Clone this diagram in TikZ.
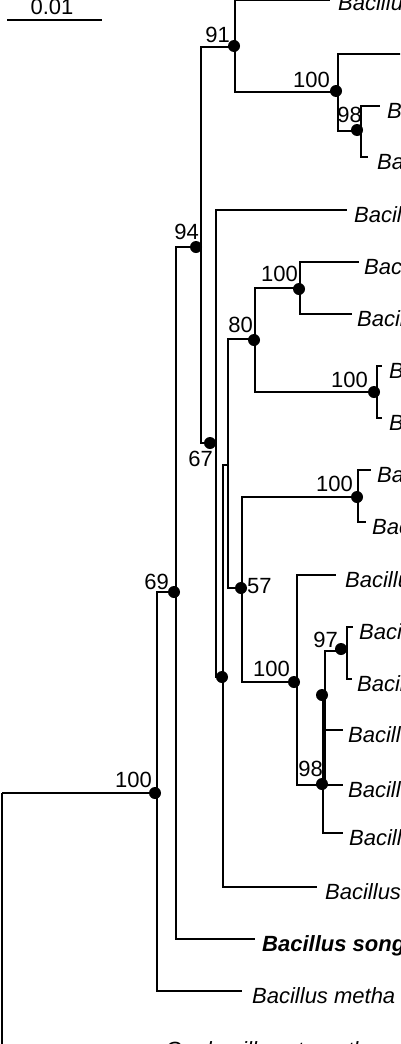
\documentclass[tikz,border=0pt]{standalone}
\usepackage{fontspec}
\setmainfont{Liberation Sans}
\usepackage{tikz}
\usetikzlibrary{positioning}

\begin{document}
\begin{tikzpicture}[
  x=1pt, y=-1pt,
  branch/.style = {line width=1.5pt},
  leaf/.style   = {font=\fontsize{22}{26}\selectfont\itshape, anchor=base west, inner sep=0pt},
  boot/.style   = {font=\fontsize{22}{26}\selectfont, inner sep=0pt},
  dot/.style    = {circle, fill, inner sep=0pt, minimum size=12pt},
]
  \useasboundingbox (0,0) rectangle (400,1044);
  \clip (0,0) rectangle (400,1044);

  % scale bar
  \coordinate (sbl) at (7,20);
  \coordinate (sbr) at (102,20);
  \draw[branch] (sbl) -- (sbr);
  \node[boot, anchor=south] (sblab) at (52,15) {0.01};

  % inner nodes
  \coordinate (root)  at (2,793);
  \coordinate (nA)    at (157,793);
  \coordinate (n69)   at (176,592);
  \coordinate (n94)   at (201,247);
  \coordinate (n91)   at (235,47);
  \coordinate (n100b) at (338,92);
  \coordinate (n98a)  at (361,131);
  \coordinate (n67)   at (216,443);
  \coordinate (nU1)   at (223,677);
  \coordinate (nU2)   at (228,465);
  \coordinate (n80)   at (255,339);
  \coordinate (n100c) at (300,288);
  \coordinate (n100d) at (377,392);
  \coordinate (n57)   at (242,588);
  \coordinate (n100e) at (358,497);
  \coordinate (n100f) at (297,682);
  \coordinate (n98b)  at (323,785);
  \coordinate (nU3)   at (325,695);
  \coordinate (n97)   at (347,651);

  % tips
  \coordinate (t1)  at (330,0);
  \coordinate (t2)  at (405,54);
  \coordinate (t3)  at (380,106);
  \coordinate (t4)  at (368,157);
  \coordinate (t5)  at (347,210);
  \coordinate (t6)  at (359,262);
  \coordinate (t7)  at (352,314);
  \coordinate (t8)  at (382,366);
  \coordinate (t9)  at (382,418);
  \coordinate (t10) at (371,470);
  \coordinate (t11) at (366,522);
  \coordinate (t12) at (336,575);
  \coordinate (t13) at (353,627);
  \coordinate (t14) at (352,679);
  \coordinate (t15) at (343,730);
  \coordinate (t16) at (343,785);
  \coordinate (t17) at (343,833);
  \coordinate (t18) at (317,887);
  \coordinate (t19) at (255,939);
  \coordinate (t20) at (242,991);
  \coordinate (t21) at (157,1045);

  % branches
  \draw[branch] (root) |- (nA);   \draw[branch] (root) |- (t21);
  \draw[branch] (nA) |- (n69);    \draw[branch] (nA) |- (t20);
  \draw[branch] (n69) |- (n94);   \draw[branch] (n69) |- (t19);
  \draw[branch] (n94) |- (n91);   \draw[branch] (n94) |- (n67);
  \draw[branch] (n91) |- (t1);    \draw[branch] (n91) |- (n100b);
  \draw[branch] (n100b) |- (t2);  \draw[branch] (n100b) |- (n98a);
  \draw[branch] (n98a) |- (t3);   \draw[branch] (n98a) |- (t4);
  \draw[branch] (n67) |- (t5);    \draw[branch] (n67) |- (nU1);
  \draw[branch] (nU1) |- (nU2);   \draw[branch] (nU1) |- (t18);
  \draw[branch] (nU2) |- (n80);   \draw[branch] (nU2) |- (n57);
  \draw[branch] (n80) |- (n100c); \draw[branch] (n80) |- (n100d);
  \draw[branch] (n100c) |- (t6);  \draw[branch] (n100c) |- (t7);
  \draw[branch] (n100d) |- (t8);  \draw[branch] (n100d) |- (t9);
  \draw[branch] (n57) |- (n100e); \draw[branch] (n57) |- (n100f);
  \draw[branch] (n100e) |- (t10); \draw[branch] (n100e) |- (t11);
  \draw[branch] (n100f) |- (t12); \draw[branch] (n100f) |- (n98b);
  \draw[branch] (n98b) |- (nU3);  \draw[branch] (n98b) |- (t16);
  \draw[branch] (n98b) |- (t17);
  \draw[branch] (nU3) |- (n97);   \draw[branch] (nU3) |- (t15);
  \draw[branch] (nU3) |- (t16);
  \draw[branch] (n97) |- (t13);   \draw[branch] (n97) |- (t14);

  % dots
  \node[dot] (d91)   at (234,46)  {};
  \node[dot] (d100b) at (336,91)  {};
  \node[dot] (d98a)  at (357,130) {};
  \node[dot] (d94)   at (196,247) {};
  \node[dot] (d100c) at (299,289) {};
  \node[dot] (d80)   at (254,340) {};
  \node[dot] (d100d) at (374,392) {};
  \node[dot] (d67)   at (210,443) {};
  \node[dot] (d100e) at (357,497) {};
  \node[dot] (d57)   at (241,588) {};
  \node[dot] (d69)   at (174,592) {};
  \node[dot] (d97)   at (341,649) {};
  \node[dot] (d100f) at (294,682) {};
  \node[dot] (dU1)   at (222,677) {};
  \node[dot] (dU3)   at (322,695) {};
  \node[dot] (d98b)  at (322,784) {};
  \node[dot] (dA)    at (155,793) {};

  % bootstrap values
  \node[boot, anchor=south east] (b91)   at (230,43)  {91};
  \node[boot, anchor=south east] (b100b) at (330,88)  {100};
  \node[boot, anchor=south east] (b98a)  at (362,123) {98};
  \node[boot, anchor=south east] (b94)   at (199,240) {94};
  \node[boot, anchor=south east] (b100c) at (298,282) {100};
  \node[boot, anchor=south east] (b80)   at (253,333) {80};
  \node[boot, anchor=south east] (b100d) at (368,388) {100};
  \node[boot, anchor=north east] (b67)   at (213,451) {67};
  \node[boot, anchor=south east] (b100e) at (353,492) {100};
  \node[boot, anchor=south west] (b57)   at (247,594) {57};
  \node[boot, anchor=south east] (b69)   at (169,590) {69};
  \node[boot, anchor=south east] (b97)   at (338,648) {97};
  \node[boot, anchor=south east] (b100f) at (290,677) {100};
  \node[boot, anchor=south east] (b98b)  at (323,777) {98};
  \node[boot, anchor=south east] (bA)    at (152,788) {100};

  % taxa
  \node[leaf] (l1)  at (338,10)   {Bacillus};
  \node[leaf] (l3)  at (387,118)  {Bacillus};
  \node[leaf] (l4)  at (377,169)  {Bacillus};
  \node[leaf] (l5)  at (354,222)  {Bacillus};
  \node[leaf] (l6)  at (364,274)  {Bacillus};
  \node[leaf] (l7)  at (357,326)  {Bacillus};
  \node[leaf] (l8)  at (389,378)  {Bacillus};
  \node[leaf] (l9)  at (389,430)  {Bacillus};
  \node[leaf] (l10) at (377,482)  {Bacillus};
  \node[leaf] (l11) at (372,534)  {Bacillus};
  \node[leaf] (l12) at (345,587)  {Bacillus};
  \node[leaf] (l13) at (359,639)  {Bacillus};
  \node[leaf] (l14) at (357,691)  {Bacillus};
  \node[leaf] (l15) at (348,742)  {Bacillus};
  \node[leaf] (l16) at (348,797)  {Bacillus};
  \node[leaf] (l17) at (349,845)  {Bacillus};
  \node[leaf] (l18) at (325,899)  {Bacillus};
  \node[leaf, font=\fontsize{22}{26}\selectfont\bfseries\itshape] (l19) at (262,951) {Bacillus song};
  \node[leaf] (l20) at (252,1003) {Bacillus metha};
  \node[leaf] (l21) at (165,1057) {Geobacillus stearotherm};
\end{tikzpicture}
\end{document}
